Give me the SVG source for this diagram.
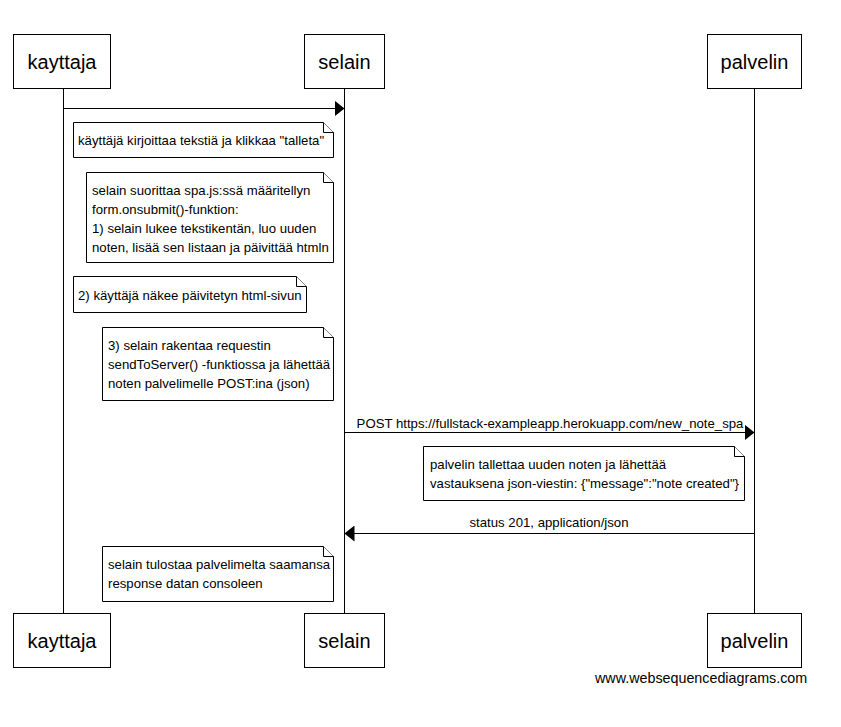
<svg xmlns="http://www.w3.org/2000/svg" width="841" height="727" viewBox="0 0 841 727">
  <style>
    .box { fill: #fff; stroke: #000; stroke-width: 1; }
    .life { stroke: #000; stroke-width: 1; }
    .msg { stroke: #000; stroke-width: 1; fill: none; }
    .note { fill: #fff; stroke: #000; stroke-width: 1; }
    .pt { font-family: "Liberation Sans", Arial, sans-serif; font-size: 20px; text-anchor: middle; fill: #000; }
    .t { font-family: "Liberation Sans", Arial, sans-serif; font-size: 13.2px; fill: #000; }
    .tc { text-anchor: middle; }
    .foot { font-family: "Liberation Sans", Arial, sans-serif; font-size: 14.3px; fill: #000; }
  </style>
  <defs>
    <marker id="head" viewBox="0 0 10 16" refX="10" refY="8" markerWidth="10" markerHeight="16" markerUnits="userSpaceOnUse" orient="auto">
      <path d="M0,0 L10,8 L0,16 Z" fill="#000"/>
    </marker>
  </defs>
  <rect width="841" height="727" fill="#fff"/>

  <!-- lifelines -->
  <g id="lifelines">
    <line class="life" x1="63.5" y1="89" x2="63.5" y2="614"/>
    <line class="life" x1="344.5" y1="89" x2="344.5" y2="614"/>
    <line class="life" x1="754.5" y1="89" x2="754.5" y2="614"/>
  </g>

  <!-- participants -->
  <g id="kayttaja">
    <rect class="box" x="13.5" y="34.5" width="97" height="54"/>
    <text class="pt" x="62" y="69">kayttaja</text>
    <rect class="box" x="13.5" y="613.5" width="97" height="54"/>
    <text class="pt" x="62" y="648">kayttaja</text>
  </g>
  <g id="selain">
    <rect class="box" x="304.5" y="34.5" width="80" height="54"/>
    <text class="pt" x="344.5" y="69">selain</text>
    <rect class="box" x="304.5" y="613.5" width="80" height="54"/>
    <text class="pt" x="344.5" y="648">selain</text>
  </g>
  <g id="palvelin">
    <rect class="box" x="707.5" y="34.5" width="94" height="54"/>
    <text class="pt" x="754.5" y="69">palvelin</text>
    <rect class="box" x="707.5" y="613.5" width="94" height="54"/>
    <text class="pt" x="754.5" y="648">palvelin</text>
  </g>

  <!-- messages -->
  <g id="connectors">
    <line class="msg" x1="63.5" y1="108.5" x2="344.5" y2="108.5" marker-end="url(#head)"/>
    <line class="msg" x1="344.5" y1="432.5" x2="754.5" y2="432.5" marker-end="url(#head)"/>
    <text class="t tc" x="550" y="428">POST https://fullstack-exampleapp.herokuapp.com/new_note_spa</text>
    <line class="msg" x1="754.5" y1="533.5" x2="344.5" y2="533.5" marker-end="url(#head)"/>
    <text class="t tc" x="549" y="527">status 201, application/json</text>
  </g>

  <!-- notes -->
  <g id="note1">
    <path class="note" d="M73.5,122.5 H323.5 L333.5,132.5 V157.5 H73.5 Z"/>
    <path class="note" d="M323.5,122.5 V132.5 H333.5"/>
    <text class="t" x="78" y="145">käyttäjä kirjoittaa tekstiä ja klikkaa "talleta"</text>
  </g>
  <g id="note2">
    <path class="note" d="M86.5,172.5 H323.5 L333.5,182.5 V262.5 H86.5 Z"/>
    <path class="note" d="M323.5,172.5 V182.5 H333.5"/>
    <text class="t" x="92" y="195">selain suorittaa spa.js:ssä määritellyn</text>
    <text class="t" x="92" y="214">form.onsubmit()-funktion:</text>
    <text class="t" x="92" y="233">1) selain lukee tekstikentän, luo uuden</text>
    <text class="t" x="92" y="252">noten, lisää sen listaan ja päivittää htmln</text>
  </g>
  <g id="note3">
    <path class="note" d="M73.5,276.5 H296.5 L306.5,286.5 V312.5 H73.5 Z"/>
    <path class="note" d="M296.5,276.5 V286.5 H306.5"/>
    <text class="t" x="78" y="300">2) käyttäjä näkee päivitetyn html-sivun</text>
  </g>
  <g id="note4">
    <path class="note" d="M102.5,327.5 H323.5 L333.5,337.5 V400.5 H102.5 Z"/>
    <path class="note" d="M323.5,327.5 V337.5 H333.5"/>
    <text class="t" x="108" y="350">3) selain rakentaa requestin</text>
    <text class="t" x="108" y="369">sendToServer() -funktiossa ja lähettää</text>
    <text class="t" x="108" y="388">noten palvelimelle POST:ina (json)</text>
  </g>
  <g id="note5">
    <path class="note" d="M423.5,446.5 H734.5 L744.5,456.5 V500.5 H423.5 Z"/>
    <path class="note" d="M734.5,446.5 V456.5 H744.5"/>
    <text class="t" x="430" y="469">palvelin tallettaa uuden noten ja lähettää</text>
    <text class="t" x="430" y="488">vastauksena json-viestin: {"message":"note created"}</text>
  </g>
  <g id="note6">
    <path class="note" d="M102.5,546.5 H323.5 L333.5,556.5 V601.5 H102.5 Z"/>
    <path class="note" d="M323.5,546.5 V556.5 H333.5"/>
    <text class="t" x="108" y="569">selain tulostaa palvelimelta saamansa</text>
    <text class="t" x="108" y="588">response datan consoleen</text>
  </g>

  <text class="foot" x="595" y="683">www.websequencediagrams.com</text>
</svg>
